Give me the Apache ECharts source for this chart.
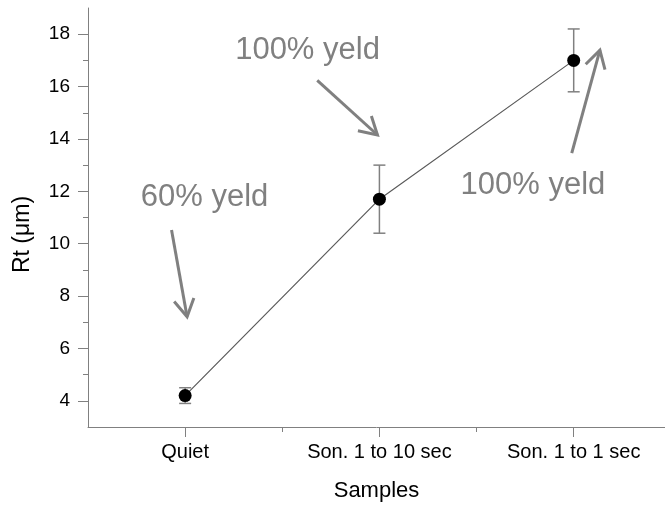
<!DOCTYPE html>
<html><head><meta charset="utf-8">
<script src="https://cdn.jsdelivr.net/npm/echarts@6/dist/echarts.min.js"></script>
<style>html,body{margin:0;padding:0;background:#fff}#c{width:665px;height:510px}</style>
</head><body><div id="c"></div>
<script>
const categories = ['Quiet', 'Son. 1 to 10 sec', 'Son. 1 to 1 sec'];
const rtMean = [4.2, 11.7, 17.0];
const rtError = [0.3, 1.3, 1.2];
const yTickValues = [4, 6, 8, 10, 12, 14, 16, 18];
const yMinorTickValues = [5, 7, 9, 11, 13, 15, 17];
const xTickValues = [0, 1, 2];
const xMinorTickValues = [0.5, 1.5];
const annotationTexts = ['60% yeld', '100% yeld', '100% yeld'];
const annotationAnchor = [[0.10, 11.78], [0.63, 17.39], [1.79, 12.24]];
const arrowFrom = [[-0.07, 10.52], [0.68, 16.24], [1.99, 13.46]];
const arrowTo = [[0.01, 7.21], [0.99, 14.15], [2.135, 17.39]];

const FONT = 'Liberation Sans, Arial, sans-serif';
const AXIS_GRAY = '#808080';
const ANNO_GRAY = '#808080';

const chart = echarts.init(document.getElementById('c'), null, {renderer: 'canvas'});

const lineData = categories.map((c, i) => [i, rtMean[i]]);
const errData = categories.map((c, i) => [i, rtMean[i], rtError[i]]);
const arrowData = arrowFrom.map((f, i) => [f[0], f[1], arrowTo[i][0], arrowTo[i][1]]);
const textData = annotationAnchor.map((a, i) => [a[0], a[1], i]);

const option = {
  animation: false,
  backgroundColor: '#fff',
  grid: {left: 88, right: 0, top: 8, bottom: 83, outerBoundsMode: 'none', containLabel: false},
  xAxis: [
    {
      type: 'value', min: -0.5, max: 2.47, position: 'bottom',
      axisLine: {show: true, onZero: false, lineStyle: {color: AXIS_GRAY, width: 1}},
      axisTick: {show: true, customValues: xTickValues, length: 10, lineStyle: {color: AXIS_GRAY, width: 1}},
      axisLabel: {customValues: xTickValues, formatter: v => categories[Math.round(v)] || '',
        color: '#000', fontSize: 20, fontFamily: FONT, margin: 15},
      splitLine: {show: false},
      name: 'Samples', nameLocation: 'middle', nameGap: 53,
      nameTextStyle: {color: '#000', fontSize: 22, fontFamily: FONT}
    },
    {
      type: 'value', min: -0.5, max: 2.47, position: 'bottom',
      axisLine: {show: false, onZero: false},
      axisTick: {show: true, customValues: xMinorTickValues, length: 5, lineStyle: {color: AXIS_GRAY, width: 1}},
      axisLabel: {show: false},
      splitLine: {show: false}
    }
  ],
  yAxis: [
    {
      type: 'value', min: 3, max: 19, position: 'left',
      axisLine: {show: true, onZero: false, lineStyle: {color: AXIS_GRAY, width: 1}},
      axisTick: {show: true, customValues: yTickValues, length: 10, lineStyle: {color: AXIS_GRAY, width: 1}},
      axisLabel: {customValues: yTickValues, color: '#000', fontSize: 19, fontFamily: FONT, margin: 18},
      splitLine: {show: false},
      name: 'Rt (\u03bcm)', nameLocation: 'middle', nameGap: 54,
      nameTextStyle: {color: '#000', fontSize: 23, fontFamily: FONT, padding: [0, 34, 0, 0]}
    },
    {
      type: 'value', min: 3, max: 19, position: 'left',
      axisLine: {show: false, onZero: false},
      axisTick: {show: true, customValues: yMinorTickValues, length: 5, lineStyle: {color: AXIS_GRAY, width: 1}},
      axisLabel: {show: false},
      splitLine: {show: false}
    }
  ],
  series: [
    {
      type: 'custom', name: 'error', xAxisIndex: 0, yAxisIndex: 0, z: 1, clip: false,
      data: errData,
      renderItem: (params, api) => {
        const x = api.value(0), m = api.value(1), e = api.value(2);
        const top = api.coord([x, m + e]);
        const bot = api.coord([x, m - e]);
        const hw = 6;
        const st = {stroke: '#808080', lineWidth: 1.5};
        return {type: 'group', children: [
          {type: 'line', shape: {x1: top[0], y1: top[1], x2: bot[0], y2: bot[1]}, style: st},
          {type: 'line', shape: {x1: top[0] - hw, y1: top[1], x2: top[0] + hw, y2: top[1]}, style: st},
          {type: 'line', shape: {x1: bot[0] - hw, y1: bot[1], x2: bot[0] + hw, y2: bot[1]}, style: st}
        ]};
      }
    },
    {
      type: 'line', name: 'Rt', xAxisIndex: 0, yAxisIndex: 0, z: 3,
      data: lineData,
      symbol: 'circle', symbolSize: 13,
      itemStyle: {color: '#000'},
      lineStyle: {color: '#5a5a5a', width: 1.2}
    },
    {
      type: 'custom', name: 'arrows', xAxisIndex: 0, yAxisIndex: 0, z: 4, clip: false,
      data: arrowData,
      renderItem: (params, api) => {
        const p1 = api.coord([api.value(0), api.value(1)]);
        const p2 = api.coord([api.value(2), api.value(3)]);
        const ang = Math.atan2(p1[1] - p2[1], p1[0] - p2[0]);
        const L = 20, a = Math.PI / 6;
        const h1 = [p2[0] + L * Math.cos(ang + a), p2[1] + L * Math.sin(ang + a)];
        const h2 = [p2[0] + L * Math.cos(ang - a), p2[1] + L * Math.sin(ang - a)];
        const st = {stroke: ANNO_GRAY, lineWidth: 3, fill: null, lineCap: 'butt'};
        return {type: 'group', children: [
          {type: 'line', shape: {x1: p1[0], y1: p1[1], x2: p2[0], y2: p2[1]}, style: st},
          {type: 'polyline', shape: {points: [h1, p2, h2]}, style: st}
        ]};
      }
    },
    {
      type: 'custom', name: 'notes', xAxisIndex: 0, yAxisIndex: 0, z: 4, clip: false,
      data: textData,
      renderItem: (params, api) => {
        const p = api.coord([api.value(0), api.value(1)]);
        return {type: 'text', x: p[0], y: p[1], style: {
          text: annotationTexts[api.value(2)], fill: ANNO_GRAY,
          font: '31px ' + FONT, align: 'center', verticalAlign: 'middle'
        }};
      }
    }
  ]
};
chart.setOption(option);
</script>
</body></html>
